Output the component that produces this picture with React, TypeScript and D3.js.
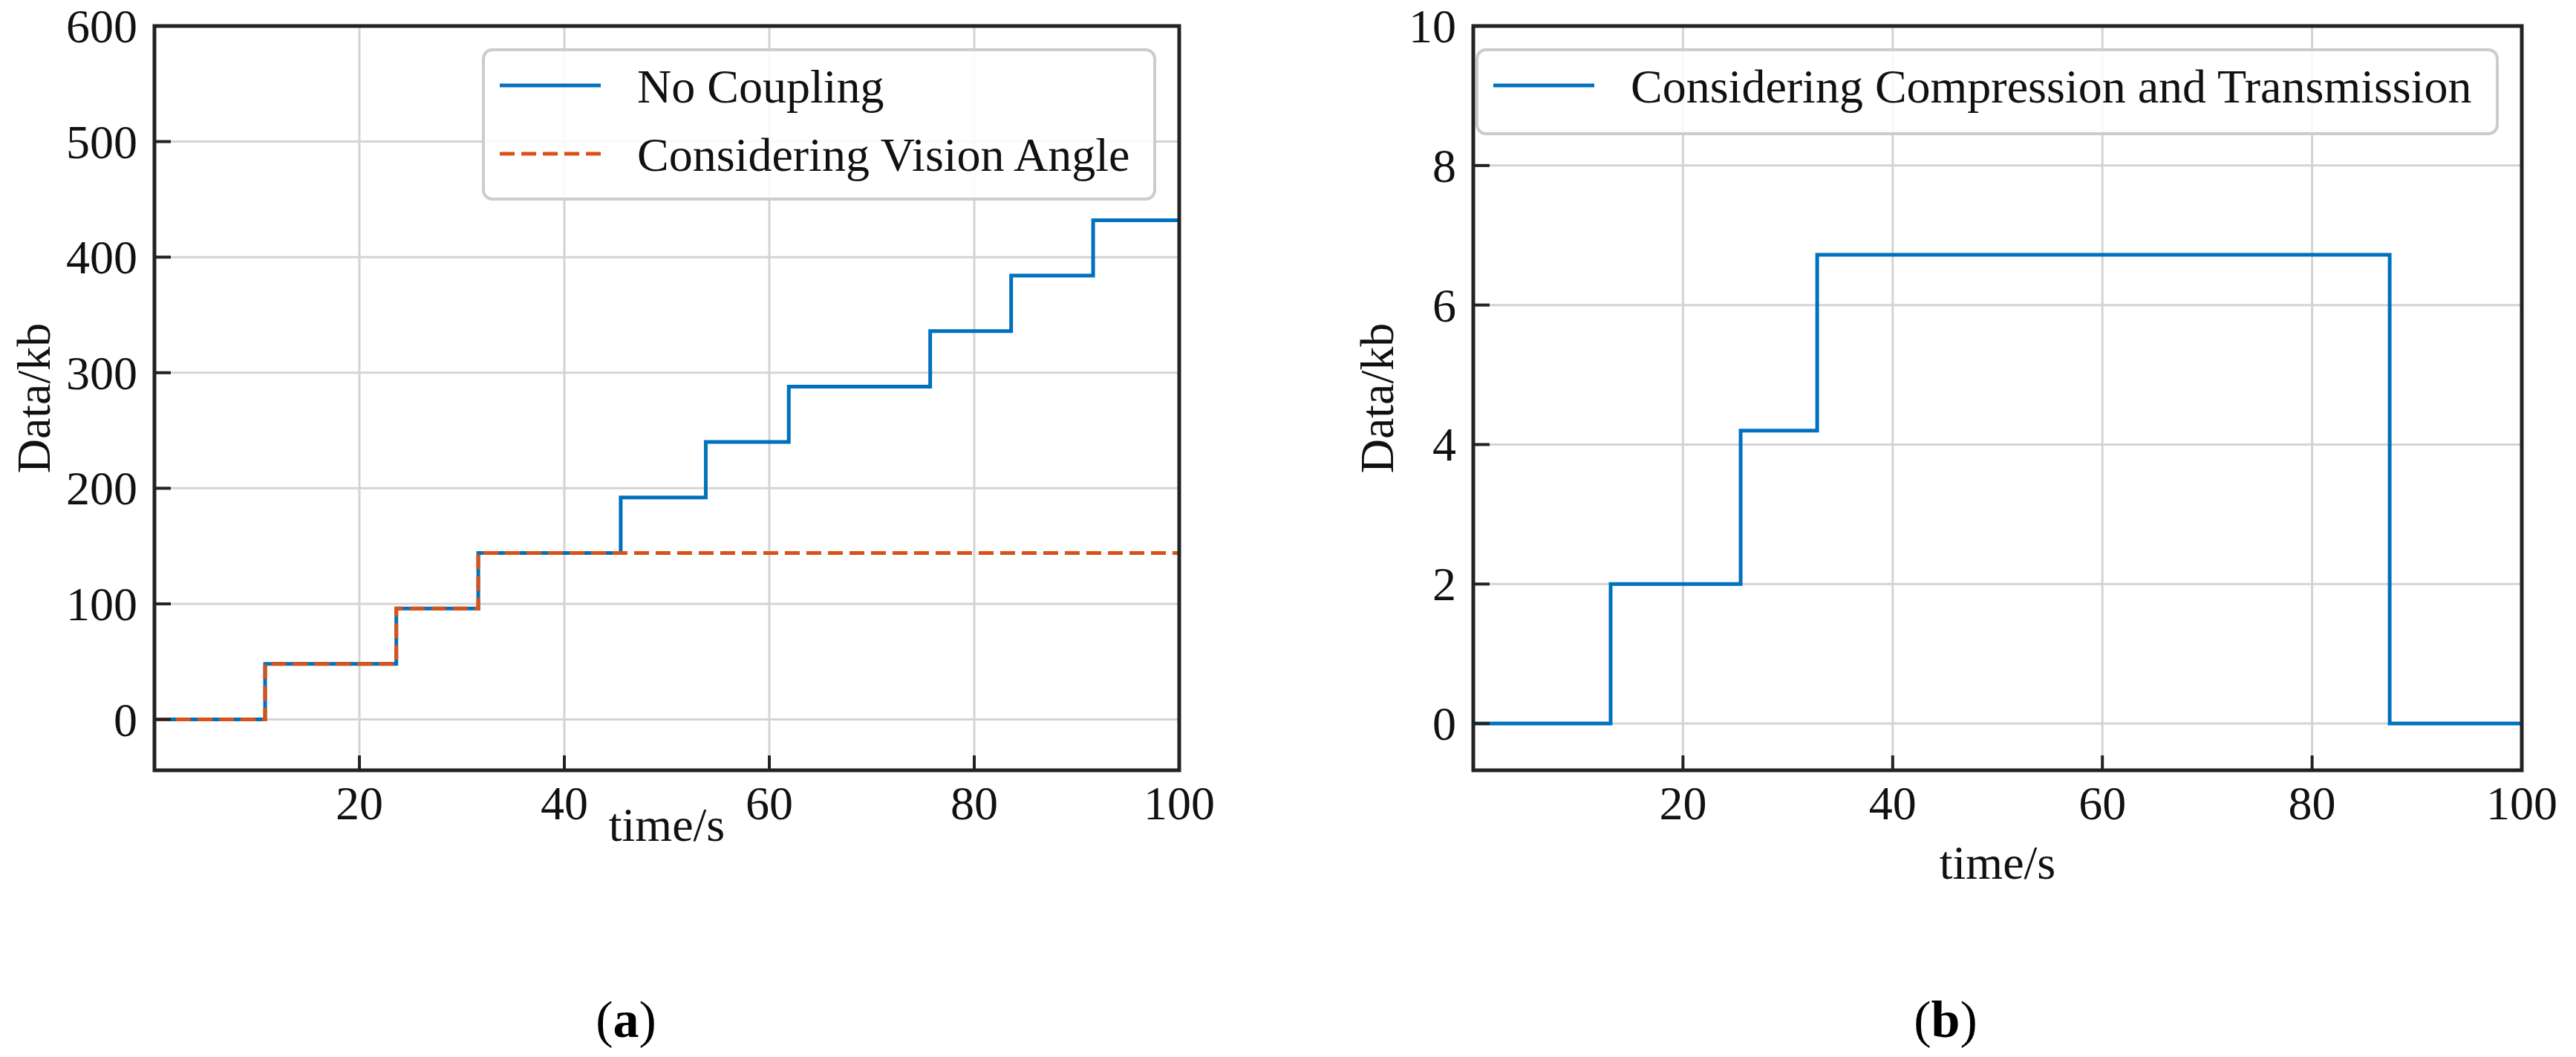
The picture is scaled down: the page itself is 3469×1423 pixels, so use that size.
import React from 'react';
import * as d3 from 'd3';

// tick labels
const timeTicks = [20, 40, 60, 80, 100];
const dataTicksA = [0, 100, 200, 300, 400, 500, 600];
const dataTicksB = [0, 2, 4, 6, 8, 10];

// (a) cumulative data, step series
const noCouplingTimes = [0, 10.8, 23.6, 31.6, 45.5, 53.8, 61.9, 75.7, 83.6, 91.6, 100];
const noCouplingData = [0, 48, 96, 144, 192, 240, 288, 336, 384, 432, 432];
const visionAngleTimes = [0, 10.8, 23.6, 31.6, 100];
const visionAngleData = [0, 48, 96, 144, 144];

// (b) data after compression and transmission
const compressionTimes = [0, 13.1, 25.5, 32.8, 87.4, 100];
const compressionData = [0, 2.0, 4.2, 6.72, 0, 0];

const FONT = '"Liberation Serif", "Times New Roman", serif';
const FS = 64;
const BLUE = '#0072BD';
const ORANGE = '#D95319';
const GRID = '#d4d4d4';
const INK = '#222';

type Series = {
  times: number[];
  values: number[];
  label: string;
  color: string;
  dash?: string;
};

interface PanelProps {
  left: number;
  right: number;
  top: number;
  bottom: number;
  yDomain: [number, number];
  yTicks: number[];
  series: Series[];
  legend: {x0: number; x1: number; y0: number; y1: number; rows: number[]};
  yLabelX: number;
  xLabelY: number;
  tag: string;
  tagX: number;
}

const Panel: React.FC<PanelProps> = ({
  left, right, top, bottom, yDomain, yTicks, series, legend, yLabelX, xLabelY, tag, tagX,
}) => {
  const x = d3.scaleLinear().domain([0, 100]).range([left, right]);
  const y = d3.scaleLinear().domain(yDomain).range([bottom, top]);
  const line = d3
    .line<[number, number]>()
    .x((d) => x(d[0]))
    .y((d) => y(d[1]))
    .curve(d3.curveStepAfter);
  const clipId = `clip-${tag}`;

  return (
    <g>
      <defs>
        <clipPath id={clipId}>
          <rect x={left} y={top} width={right - left} height={bottom - top} />
        </clipPath>
      </defs>

      {/* grid */}
      {timeTicks.map((t) => (
        <line key={`gx${t}`} x1={x(t)} x2={x(t)} y1={top} y2={bottom} stroke={GRID} strokeWidth={3} />
      ))}
      {yTicks.map((t) => (
        <line key={`gy${t}`} x1={left} x2={right} y1={y(t)} y2={y(t)} stroke={GRID} strokeWidth={3} />
      ))}

      {/* series */}
      <g clipPath={`url(#${clipId})`}>
        {series.map((s) => (
          <path
            key={s.label}
            d={line(s.times.map((t, i) => [t, s.values[i]] as [number, number])) || ''}
            fill="none"
            stroke={s.color}
            strokeWidth={5}
            strokeDasharray={s.dash}
          />
        ))}
      </g>

      {/* legend */}
      <rect
        x={legend.x0}
        y={legend.y0}
        width={legend.x1 - legend.x0}
        height={legend.y1 - legend.y0}
        rx={12}
        fill="white"
        fillOpacity={0.85}
        stroke="#cccccc"
        strokeWidth={4}
      />
      {series.map((s, i) => (
        <g key={`lg${s.label}`}>
          <line
            x1={legend.x0 + 22}
            x2={legend.x0 + 158}
            y1={legend.rows[i]}
            y2={legend.rows[i]}
            stroke={s.color}
            strokeWidth={5}
            strokeDasharray={s.dash}
          />
          <text x={legend.x0 + 207} y={legend.rows[i] + 23} fontFamily={FONT} fontSize={FS} fill="#111">
            {s.label}
          </text>
        </g>
      ))}

      {/* frame and ticks */}
      <rect x={left} y={top} width={right - left} height={bottom - top} fill="none" stroke={INK} strokeWidth={5} />
      {timeTicks.map((t) => (
        <g key={`tx${t}`}>
          <line x1={x(t)} x2={x(t)} y1={bottom} y2={bottom - 20} stroke={INK} strokeWidth={4} />
          <text x={x(t)} y={bottom + 66} textAnchor="middle" fontFamily={FONT} fontSize={FS} fill="#111">
            {t}
          </text>
        </g>
      ))}
      {yTicks.map((t) => (
        <g key={`ty${t}`}>
          <line x1={left} x2={left + 22} y1={y(t)} y2={y(t)} stroke={INK} strokeWidth={4} />
          <text x={left - 23} y={y(t) + 22} textAnchor="end" fontFamily={FONT} fontSize={FS} fill="#111">
            {t}
          </text>
        </g>
      ))}

      {/* axis labels */}
      <text x={(left + right) / 2} y={xLabelY} textAnchor="middle" fontFamily={FONT} fontSize={FS} fill="#111">
        time/s
      </text>
      <text
        transform={`translate(${yLabelX},${(top + bottom) / 2}) rotate(-90)`}
        textAnchor="middle"
        dominantBaseline="central"
        fontFamily={FONT}
        fontSize={FS}
        fill="#111"
      >
        Data/kb
      </text>

      <text x={tagX} y={1396} textAnchor="middle" fontFamily={FONT} fontSize={70} fill="#000">
        (<tspan fontWeight="bold">{tag}</tspan>)
      </text>
    </g>
  );
};

export default function App() {
  return (
    <svg
      width={3469}
      height={1423}
      style={{position: 'absolute', left: 0, top: 0, background: 'white'}}
    >
      <rect width={3469} height={1423} fill="white" />
      <Panel
        left={208}
        right={1588}
        top={35}
        bottom={1037}
        yDomain={[-44, 600]}
        yTicks={dataTicksA}
        series={[
          {times: noCouplingTimes, values: noCouplingData, label: 'No Coupling', color: BLUE},
          {times: visionAngleTimes, values: visionAngleData, label: 'Considering Vision Angle', color: ORANGE, dash: '20 9'},
        ]}
        legend={{x0: 651, x1: 1555, y0: 67, y1: 268, rows: [115, 207]}}
        yLabelX={45}
        xLabelY={1132}
        tag="a"
        tagX={843}
      />
      <Panel
        left={1984}
        right={3396}
        top={35}
        bottom={1037}
        yDomain={[-0.67, 10]}
        yTicks={dataTicksB}
        series={[
          {times: compressionTimes, values: compressionData, label: 'Considering Compression and Transmission', color: BLUE},
        ]}
        legend={{x0: 1989, x1: 3363, y0: 67, y1: 180, rows: [115]}}
        yLabelX={1854}
        xLabelY={1183}
        tag="b"
        tagX={2620}
      />
    </svg>
  );
}
